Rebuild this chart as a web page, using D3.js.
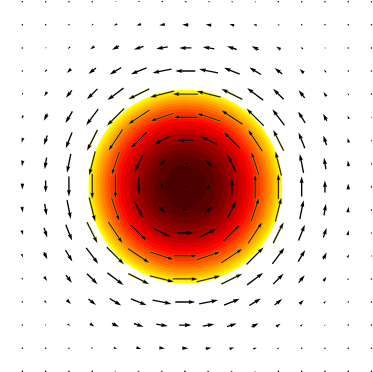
<!DOCTYPE html>
<html lang="en">
<head>
<meta charset="UTF-8">
<script src="https://d3js.org/d3.v7.min.js"></script>
<style>
  body { margin: 0; background: #fff; }
  svg { display: block; }
</style>
</head>
<body>
<script>
// grid positions (data units)
var xs = [-2, -1.75, -1.5, -1.25, -1, -0.75, -0.5, -0.25, 0, 0.25, 0.5, 0.75, 1, 1.25, 1.5, 1.75, 2];
var ys = [2, 1.75, 1.5, 1.25, 1, 0.75, 0.5, 0.25, 0, -0.25, -0.5, -0.75, -1, -1.25, -1.5, -1.75, -2];

// speed, by |row offset| (outer) and |column offset| (inner)
var speed = [
  [0.00, 0.19, 0.62, 0.94, 0.98, 0.77, 0.47, 0.24, 0.10],
  [0.19, 0.36, 0.71, 0.97, 0.96, 0.74, 0.45, 0.22, 0.09],
  [0.62, 0.71, 0.90, 1.00, 0.90, 0.65, 0.39, 0.19, 0.08],
  [0.94, 0.97, 1.00, 0.94, 0.77, 0.52, 0.30, 0.14, 0.06],
  [0.98, 0.96, 0.90, 0.77, 0.57, 0.37, 0.20, 0.09, 0.04],
  [0.77, 0.74, 0.65, 0.52, 0.37, 0.22, 0.12, 0.05, 0.02],
  [0.47, 0.45, 0.39, 0.30, 0.20, 0.12, 0.06, 0.03, 0.01],
  [0.24, 0.22, 0.19, 0.14, 0.09, 0.05, 0.03, 0.01, 0.00],
  [0.10, 0.09, 0.08, 0.06, 0.04, 0.02, 0.01, 0.00, 0.00]
];

// filled contour levels of the disc field (0 at rim, 1 at centre)
var levels = [0, 0.05, 0.1, 0.15, 0.2, 0.25, 0.3, 0.35, 0.4, 0.45, 0.5,
              0.55, 0.6, 0.65, 0.7, 0.75, 0.8, 0.85, 0.9, 0.95, 1];
var discRadius = 1.04;

var W = 373, H = 372;
var svg = d3.select("body").append("svg")
    .attr("width", W).attr("height", H);

var x = d3.scaleLinear().domain([-2, 2]).range([-0.9, 371.5]);
var y = d3.scaleLinear().domain([2, -2]).range([1.7, 371.3]);
var len = d3.scaleLinear().domain([0, 1]).range([0, 26]);

// matplotlib "hot"
function hot(t) {
  var c = function (v) { return Math.max(0, Math.min(1, v)); };
  return d3.rgb(255 * c(t / 0.365), 255 * c((t - 0.365) / 0.381), 255 * c((t - 0.746) / 0.254));
}
var tcol = d3.scalePow().exponent(1.15).domain([0, 1]).range([0.10, 0.76]);

var pxPerUnit = x(1) - x(0);
var bands = d3.pairs(levels);
svg.append("g").selectAll("circle")
    .data(bands)
    .join("circle")
    .attr("cx", x(0))
    .attr("cy", y(0))
    .attr("r", function (d) { return discRadius * Math.sqrt(1 - d[0]) * pxPerUnit; })
    .attr("fill", function (d) { return hot(tcol(1 - (d[0] + d[1]) / 2)); });

// arrows
var pts = [];
ys.forEach(function (yv, i) {
  xs.forEach(function (xv, j) {
    var ri = Math.abs(i - 8), cj = Math.abs(j - 8);
    pts.push({x: xv, y: yv, s: speed[ri][cj]});
  });
});

var w = 1.35, hw = 3 * w, hl = 5 * w, ha = 4.5 * w;
function arrowPath(L) {
  var k = 1;
  if (L < hl) { k = L / hl; L = hl; }
  var a = -L / 2;
  var p = [
    [a, -w / 2], [a + L - ha, -w / 2], [a + L - hl, -hw / 2], [a + L, 0],
    [a + L - hl, hw / 2], [a + L - ha, w / 2], [a, w / 2]
  ];
  return "M" + p.map(function (q) { return [q[0] * k, q[1] * k].join(","); }).join("L") + "Z";
}

var g = svg.append("g");
pts.forEach(function (d) {
  var L = len(d.s);
  var cx = x(d.x), cy = y(d.y);
  if (L < w) {
    g.append("circle").attr("cx", cx).attr("cy", cy).attr("r", 0.75).attr("fill", "#000");
    return;
  }
  var r = Math.sqrt(d.x * d.x + d.y * d.y);
  var ang = Math.atan2(-d.x / r, -d.y / r) * 180 / Math.PI;
  g.append("path")
    .attr("d", arrowPath(L))
    .attr("transform", "translate(" + cx + "," + cy + ") rotate(" + ang + ")")
    .attr("fill", "#000")
    .attr("stroke", "#ffff00")
    .attr("stroke-opacity", Math.max(0, (d.s - 0.75) / 0.25) * 0.7)
    .attr("stroke-width", 0.45);
});
</script>
</body>
</html>
